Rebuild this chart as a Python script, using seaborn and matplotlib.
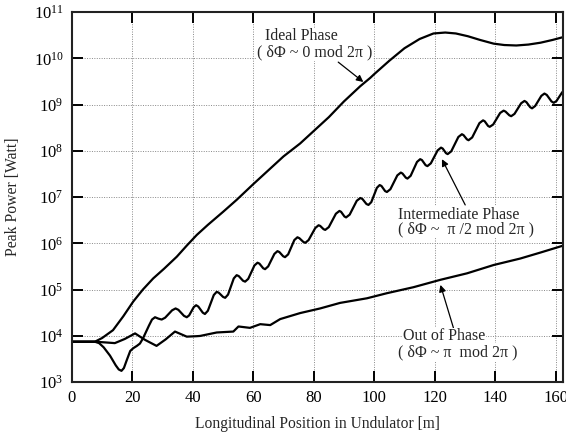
import numpy as np
import pandas as pd
import matplotlib
matplotlib.use("Agg")
import matplotlib.pyplot as plt
import seaborn as sns
from matplotlib.ticker import LogLocator, LogFormatterMathtext, NullLocator

# ---- data (y values given as log10 of power in W) ----
ideal_x = [0, 7.6, 10, 13.6, 17, 20.3, 23.5, 26.9, 30.5, 34.7, 38, 41.3, 45, 50,
           54.5, 60, 65, 70, 75.5, 80, 85, 90, 95.4, 98.7, 100, 105, 110, 115,
           119.6, 123.5, 127, 131, 135, 139.5, 143, 147, 151, 155, 159, 163]
ideal_log = [3.87, 3.87, 3.95, 4.12, 4.42, 4.74, 5.00, 5.24, 5.45, 5.71, 5.95, 6.18,
             6.40, 6.68, 6.94, 7.28, 7.58, 7.88, 8.16, 8.43, 8.73, 9.07, 9.40, 9.58,
             9.66, 9.95, 10.22, 10.42, 10.54, 10.56, 10.54, 10.48, 10.40, 10.32,
             10.29, 10.28, 10.30, 10.34, 10.40, 10.47]

inter_x = [0, 7.6, 9, 10.5, 12.6, 14.5, 15.5, 16.4, 17.2, 18.2, 19.3, 20.3, 21.5,
           22.5, 23.5, 24.5, 25.5, 26.5, 27.5, 28.6, 29.7,
           30.85, 32.0, 33.15, 34.3, 35.23, 36.15, 37.08, 38.0,
           38.78, 39.55, 40.33, 41.1, 41.83, 42.55, 43.28, 44.0,
           44.98, 45.95, 46.93, 47.9, 48.6, 49.3, 50.0, 50.7,
           51.65, 52.6, 53.55, 54.5, 55.2, 55.9, 56.6, 57.3,
           58.33, 59.35, 60.38, 61.4, 62.03, 62.65, 63.28, 63.9,
           64.93, 65.95, 66.98, 68.0, 68.63, 69.25, 69.88, 70.5,
           71.53, 72.55, 73.58, 74.6, 75.25, 75.9, 76.55, 77.2,
           78.3, 79.4, 80.5, 81.6, 82.15, 82.7, 83.25, 83.8,
           84.98, 86.15, 87.33, 88.5, 89.05, 89.6, 90.15, 90.7,
           91.88, 93.05, 94.23, 95.4, 96.08, 96.75, 97.43, 98.1,
           99.03, 99.95, 100.88, 101.8, 102.4, 103.0, 103.6, 104.2,
           105.35, 106.5, 107.65, 108.8, 109.35, 109.9, 110.45, 111.0,
           112.05, 113.1, 114.15, 115.2, 115.8, 116.4, 117.0, 117.6,
           118.73, 119.85, 120.98, 122.1, 122.65, 123.2, 123.75, 124.3,
           125.48, 126.65, 127.83, 129.0, 129.55, 130.1, 130.65, 131.2,
           132.4, 133.6, 134.8, 136.0, 136.55, 137.1, 137.65, 138.2,
           139.35, 140.5, 141.65, 142.8, 143.43, 144.05, 144.68, 145.3,
           146.4, 147.5, 148.6, 149.7, 150.33, 150.95, 151.58, 152.2,
           153.23, 154.25, 155.28, 156.3, 157.08, 157.85, 158.63, 159.4,
           160.3, 161.2, 162.1, 163.0]
inter_log = [3.87, 3.87, 3.84, 3.75, 3.57, 3.36, 3.27, 3.24, 3.30, 3.48, 3.67, 3.73,
             3.78, 3.83, 3.94, 4.08, 4.22, 4.35, 4.40, 4.37, 4.35,
             4.39, 4.47, 4.55, 4.59, 4.56, 4.495, 4.43, 4.40,
             4.44, 4.53, 4.62, 4.66, 4.63, 4.565, 4.50, 4.47,
             4.54, 4.71, 4.88, 4.95, 4.93, 4.885, 4.84, 4.82,
             4.89, 5.065, 5.24, 5.31, 5.29, 5.24, 5.19, 5.17,
             5.23, 5.375, 5.52, 5.58, 5.56, 5.51, 5.46, 5.44,
             5.50, 5.635, 5.77, 5.83, 5.81, 5.765, 5.72, 5.70,
             5.76, 5.915, 6.07, 6.13, 6.11, 6.07, 6.03, 6.01,
             6.07, 6.20, 6.33, 6.39, 6.375, 6.34, 6.305, 6.29,
             6.35, 6.495, 6.64, 6.70, 6.68, 6.63, 6.58, 6.56,
             6.62, 6.77, 6.92, 6.98, 6.96, 6.905, 6.85, 6.83,
             6.89, 7.045, 7.20, 7.26, 7.24, 7.185, 7.13, 7.11,
             7.17, 7.32, 7.47, 7.53, 7.51, 7.465, 7.42, 7.40,
             7.46, 7.61, 7.76, 7.82, 7.80, 7.745, 7.69, 7.67,
             7.73, 7.87, 8.01, 8.07, 8.05, 8.00, 7.95, 7.93,
             7.99, 8.145, 8.30, 8.36, 8.34, 8.295, 8.25, 8.23,
             8.29, 8.445, 8.60, 8.66, 8.64, 8.59, 8.54, 8.52,
             8.57, 8.695, 8.82, 8.87, 8.85, 8.81, 8.77, 8.75,
             8.80, 8.915, 9.03, 9.08, 9.055, 9.00, 8.945, 8.92,
             8.97, 9.08, 9.19, 9.24, 9.21, 9.14, 9.07, 9.04,
             9.08, 9.17, 9.26, 9.33]

out_x = [0, 7.6, 10, 14.2, 17.5, 20.9, 24.2, 28, 31, 34.1, 38, 41.3, 42.4, 47.9,
         53.4, 55.1, 58.9, 62.3, 65.6, 68.9, 75.5, 82.1, 88.7, 97.6, 104.2, 113,
         121.9, 130.7, 139.5, 148.3, 155, 163]
out_log = [3.87, 3.87, 3.86, 3.84, 3.93, 4.05, 3.91, 3.78, 3.92, 4.09, 3.98, 3.99,
           3.995, 4.07, 4.09, 4.20, 4.17, 4.25, 4.23, 4.36, 4.49, 4.59, 4.71, 4.81,
           4.92, 5.05, 5.21, 5.35, 5.53, 5.67, 5.80, 5.96]

x_ticks = [0, 20, 40, 60, 80, 100, 120, 140, 160]
series_names = ["Ideal Phase", "Intermediate Phase", "Out of Phase"]

# ---- build long-form table ----
frames = []
for name, xs, ls in zip(series_names, [ideal_x, inter_x, out_x],
                        [ideal_log, inter_log, out_log]):
    frames.append(pd.DataFrame({"z": xs, "P": 10.0 ** np.array(ls), "series": name}))
df = pd.concat(frames, ignore_index=True)

sns.set_theme(style="ticks")
plt.rcParams["font.family"] = ["Liberation Serif", "DejaVu Serif"]
plt.rcParams["mathtext.fontset"] = "stix"

fig = plt.figure(figsize=(5.66, 4.36), dpi=100)
ax = fig.add_axes([0.127, 0.124, 0.868, 0.848])

sns.lineplot(data=df, x="z", y="P", hue="series", units="series", estimator=None,
             palette=["black"] * 3, legend=False, linewidth=1.6, sort=False, ax=ax)
for ln in ax.get_lines():
    ln.set_solid_joinstyle("round")

ax.set_yscale("log")
ax.set_xlim(0, 162.5)
ax.set_ylim(1e3, 1e11)
ax.set_xticks(x_ticks)
ax.set_xticklabels([str(t) for t in x_ticks])
ax.yaxis.set_major_locator(LogLocator(base=10, numticks=20))
ax.yaxis.set_major_formatter(LogFormatterMathtext())
ax.yaxis.set_minor_locator(NullLocator())

ax.grid(True, which="major", linestyle=(0, (1, 1.5)), color="#888888", linewidth=0.7)
ax.tick_params(which="major", direction="in", length=8, width=1.4, top=True,
               right=True, labelsize=12, colors="black", pad=6)
for s in ax.spines.values():
    s.set_linewidth(1.5)
    s.set_color("#222222")

ax.set_xlabel("Longitudinal Position in Undulator [m]", fontsize=11.2, labelpad=7)
ax.set_ylabel("Peak Power [Watt]", fontsize=11.3, labelpad=9)

arrow = dict(arrowstyle="-|>", color="black", lw=0.9, mutation_scale=10,
             shrinkA=0, shrinkB=0)
wbox = dict(facecolor="white", edgecolor="none", pad=0.5)
fs = 11.5

# Ideal phase
ax.annotate("", xy=(96.4, 10 ** 9.49), xytext=(88.1, 10 ** 9.92), arrowprops=arrow)
ax.text(63.8, 10 ** 10.48, "Ideal Phase", fontsize=fs, ha="left", va="center", bbox=wbox)
ax.text(61.3, 10 ** 10.14, "( δΦ ~ 0 mod 2π )", fontsize=fs, ha="left", va="center",
        bbox=wbox)

# Intermediate phase
ax.annotate("", xy=(122.4, 10 ** 7.82), xytext=(130.1, 10 ** 6.83), arrowprops=arrow)
ax.text(107.8, 10 ** 6.62, "Intermediate Phase", fontsize=fs, ha="left", va="center",
        bbox=wbox)
ax.text(107.8, 10 ** 6.31, "( δΦ ~  π /2 mod 2π )", fontsize=fs, ha="left", va="center",
        bbox=wbox)

# Out of phase
ax.annotate("", xy=(121.9, 10 ** 5.10), xytext=(126.2, 10 ** 4.17), arrowprops=arrow)
ax.text(109.5, 10 ** 3.99, "Out of Phase", fontsize=fs, ha="left", va="center",
        bbox=wbox)
ax.text(107.8, 10 ** 3.65, "( δΦ ~ π  mod 2π )", fontsize=fs, ha="left", va="center",
        bbox=wbox)

fig.savefig("out.png", dpi=100)
